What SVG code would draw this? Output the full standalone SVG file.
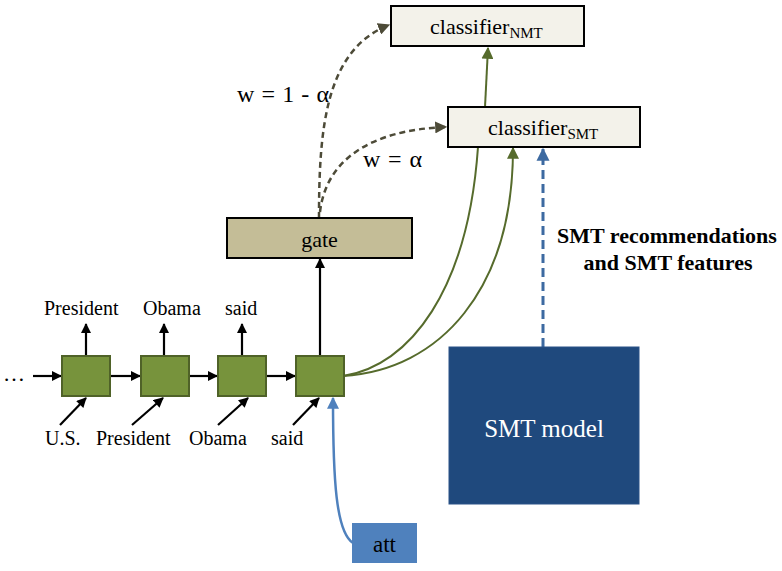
<svg xmlns="http://www.w3.org/2000/svg" width="782" height="571" viewBox="0 0 782 571">
<defs>
<style>
.t{font-family:"Liberation Serif","Times New Roman",serif;fill:#000}
.w{font-size:20px}
.cell{fill:#77933c;stroke:#4f6228;stroke-width:2}
.cls{fill:#f3f2ea;stroke:#000;stroke-width:2}
.blk{stroke:#000;stroke-width:2.2;fill:none}
.grn{stroke:#566b2c;stroke-width:2;fill:none}
.dsh{stroke:#4d4b38;stroke-width:2.5;fill:none;stroke-dasharray:6 4}
</style>
<marker id="ab" viewBox="0 0 10 10" refX="9" refY="5" markerWidth="11" markerHeight="10" markerUnits="userSpaceOnUse" orient="auto"><path d="M0,0 L10,5 L0,10 z" fill="#000"/></marker>
<marker id="ag" viewBox="0 0 10 10" refX="9" refY="5" markerWidth="12" markerHeight="12" markerUnits="userSpaceOnUse" orient="auto"><path d="M0,0 L10,5 L0,10 z" fill="#566b2c"/></marker>
<marker id="ad" viewBox="0 0 10 10" refX="9" refY="5" markerWidth="12" markerHeight="12" markerUnits="userSpaceOnUse" orient="auto"><path d="M0,0 L10,5 L0,10 z" fill="#4d4b38"/></marker>
<marker id="au" viewBox="0 0 10 10" refX="9" refY="5" markerWidth="13" markerHeight="14" markerUnits="userSpaceOnUse" orient="auto"><path d="M0,0 L10,5 L0,10 z" fill="#3d6aa1"/></marker>
<marker id="al" viewBox="0 0 10 10" refX="9" refY="5" markerWidth="12" markerHeight="13" markerUnits="userSpaceOnUse" orient="auto"><path d="M0,0 L10,5 L0,10 z" fill="#4f81bd"/></marker>
</defs>
<rect width="782" height="571" fill="#fff"/>

<g id="connectors">
<path class="blk" d="M33,376 L61,376" marker-end="url(#ab)"/>
<path class="blk" d="M110,376 L140,376" marker-end="url(#ab)"/>
<path class="blk" d="M189,376 L217,376" marker-end="url(#ab)"/>
<path class="blk" d="M267,376 L295,376" marker-end="url(#ab)"/>
<path class="blk" d="M86,356 L86,324" marker-end="url(#ab)"/>
<path class="blk" d="M164,356 L164,324" marker-end="url(#ab)"/>
<path class="blk" d="M242,356 L242,324" marker-end="url(#ab)"/>
<path class="blk" d="M60,425 L86,398" marker-end="url(#ab)"/>
<path class="blk" d="M132,425 L163,398" marker-end="url(#ab)"/>
<path class="blk" d="M218,425 L248,398" marker-end="url(#ab)"/>
<path class="blk" d="M293,425 L319,398" marker-end="url(#ab)"/>
<path class="blk" d="M320,356 L320,259" marker-end="url(#ab)"/>
<path class="dsh" d="M319,218 C319,130 325,50 389,25" marker-end="url(#ad)"/>
<path class="dsh" d="M320,212 C326,160 370,130 446,127" marker-end="url(#ad)"/>
<path class="grn" d="M485,107 L488,48" marker-end="url(#ag)"/>
<path class="grn" d="M343,376 C410,366 468,290 478,147"/>
<path class="grn" d="M343,376 C440,370 513,290 513,148" marker-end="url(#ag)"/>
<path d="M543,347 L543,149" stroke="#3d6aa1" stroke-width="3" fill="none" stroke-dasharray="9 5" marker-end="url(#au)"/>
<path d="M353,543 C336,532 333,480 333,398" stroke="#4f81bd" stroke-width="2.5" fill="none" marker-end="url(#al)"/>
</g>

<g id="ellipsis"><text class="t" x="3" y="381" font-size="22">…</text></g>

<g id="cell1"><rect class="cell" x="62" y="356" width="48" height="40"/></g>
<g id="cell2"><rect class="cell" x="141" y="356" width="48" height="40"/></g>
<g id="cell3"><rect class="cell" x="218" y="356" width="48" height="40"/></g>
<g id="cell4"><rect class="cell" x="296" y="356" width="48" height="40"/></g>

<g id="outputs">
<text class="t w" x="44" y="315">President</text>
<text class="t w" x="143" y="315">Obama</text>
<text class="t w" x="225" y="315">said</text>
</g>
<g id="inputs">
<text class="t w" x="45" y="445">U.S.</text>
<text class="t w" x="96" y="445">President</text>
<text class="t w" x="189" y="445">Obama</text>
<text class="t w" x="271" y="445">said</text>
</g>

<g id="gate">
<rect x="227" y="218" width="185" height="40" fill="#c4bd97" stroke="#000" stroke-width="2"/>
<text class="t" x="319.5" y="247" font-size="22" text-anchor="middle">gate</text>
</g>

<g id="classifier_nmt">
<rect class="cls" x="391" y="6" width="193" height="40"/>
<text class="t" x="430" y="34" font-size="22">classifier<tspan font-size="15" dy="4">NMT</tspan></text>
</g>

<g id="classifier_smt">
<rect class="cls" x="448" y="107" width="192" height="40"/>
<text class="t" x="488" y="135" font-size="22">classifier<tspan font-size="15" dy="4">SMT</tspan></text>
</g>

<g id="weights">
<text class="t" x="237" y="102" font-size="24" textLength="92" lengthAdjust="spacing">w = 1 - α</text>
<text class="t" x="363" y="167" font-size="24" textLength="59" lengthAdjust="spacing">w = α</text>
</g>

<g id="smt_label">
<text class="t" x="667" y="243" font-size="22" font-weight="bold" text-anchor="middle">SMT recommendations</text>
<text class="t" x="668" y="270" font-size="22" font-weight="bold" text-anchor="middle">and SMT features</text>
</g>

<g id="smt_model">
<rect x="449" y="347" width="190" height="157" fill="#1f497d" stroke="#2a5288" stroke-width="1"/>
<text x="544" y="437" font-family="Liberation Serif, serif" font-size="25" fill="#fff" text-anchor="middle">SMT model</text>
</g>

<g id="att">
<rect x="352" y="523" width="65" height="40" fill="#4f81bd"/>
<text class="t" x="384.5" y="552" font-size="23" text-anchor="middle">att</text>
</g>
</svg>
